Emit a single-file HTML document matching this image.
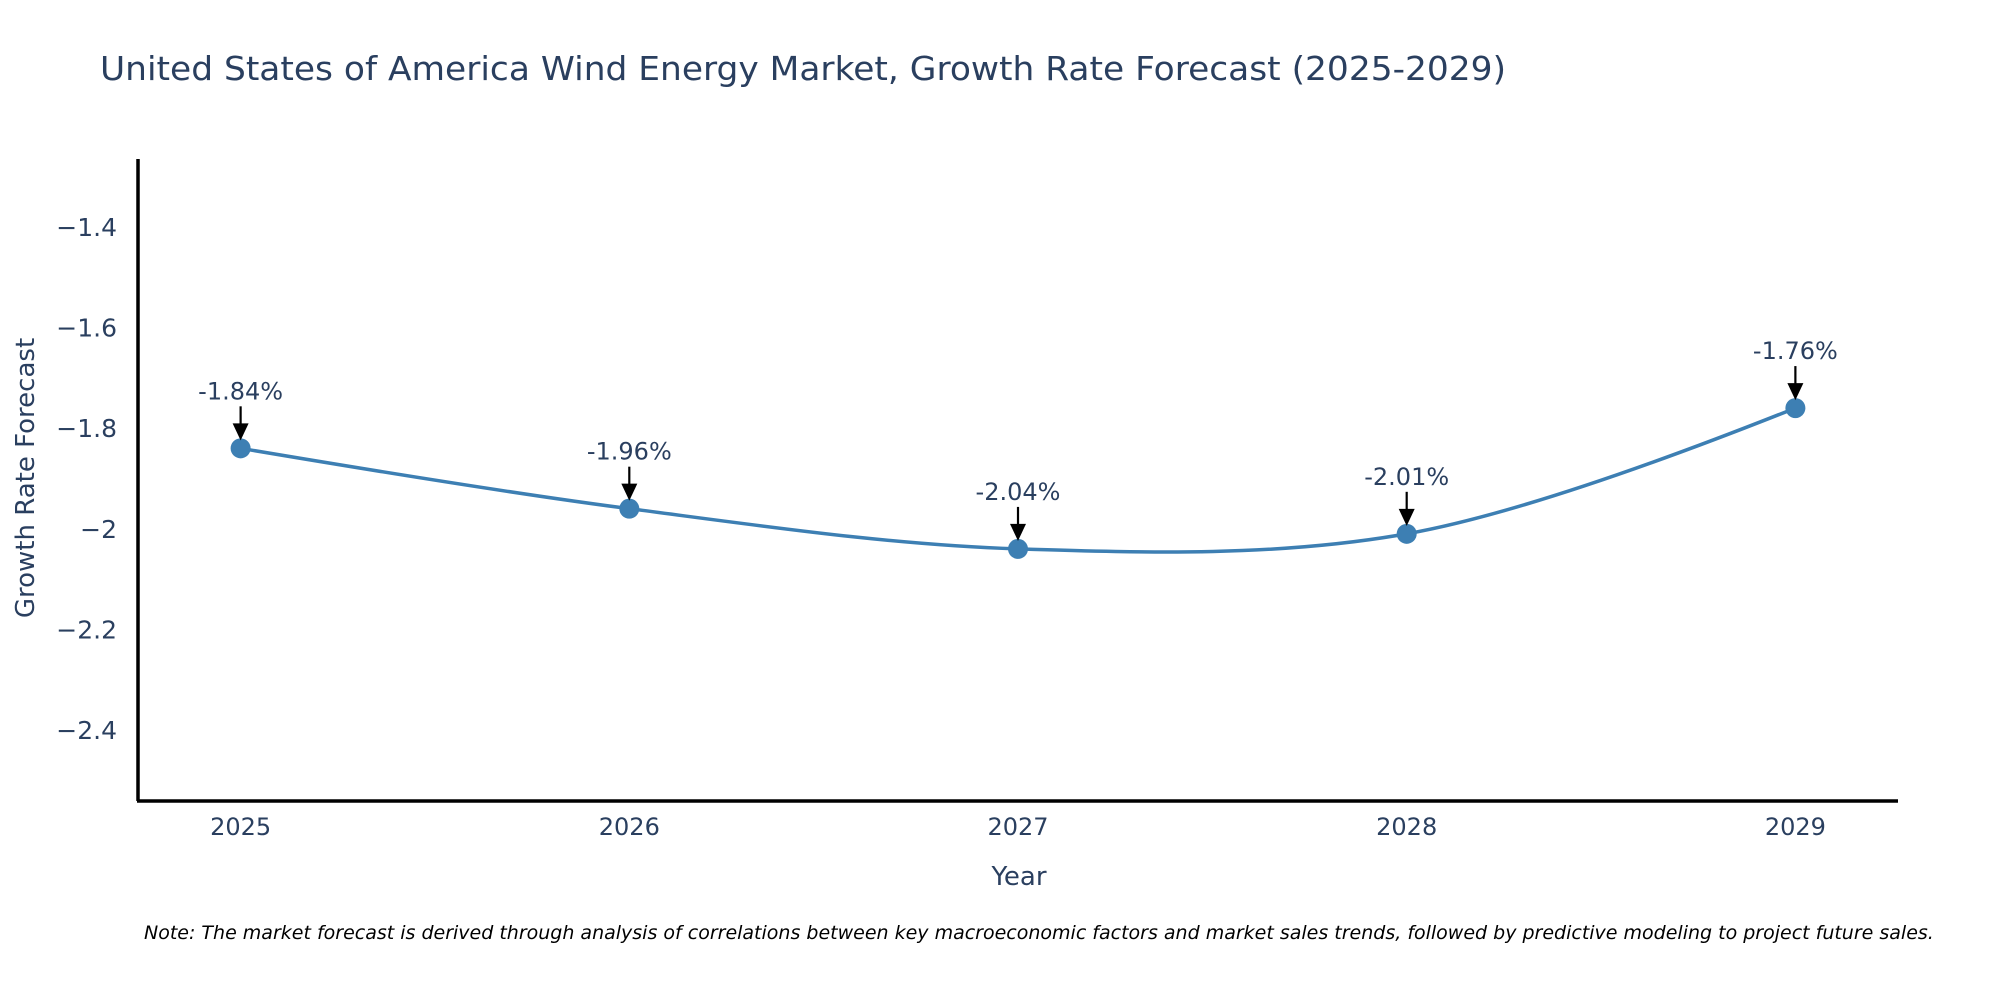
<!DOCTYPE html>
<html><head><meta charset="utf-8"><style>html,body{margin:0;padding:0;background:#fff}svg{display:block;font-family:"DejaVu Sans","Liberation Sans",sans-serif}</style></head>
<body>
<svg id="chart" width="2000" height="1000" viewBox="0 0 2000 1000">
<text x="100" y="80" font-size="33" fill="#2a3f5f" textLength="1406" lengthAdjust="spacingAndGlyphs">United States of America Wind Energy Market, Growth Rate Forecast (2025-2029)</text>
<g id="yticks"></g>
<g id="xticks"></g>
<text transform="translate(34,478) rotate(-90)" text-anchor="middle" font-size="26" fill="#2a3f5f">Growth Rate Forecast</text>
<text x="1019" y="885" text-anchor="middle" font-size="26" fill="#2a3f5f">Year</text>
<path id="series-line" fill="none" stroke="#3d7fb3" stroke-width="3.5"/>
<g id="marks"></g>
<line x1="138" y1="159" x2="138" y2="801" stroke="#000" stroke-width="3.5"/>
<line x1="137" y1="801" x2="1898" y2="801" stroke="#000" stroke-width="3.5"/>
<text x="144" y="939" font-size="19" font-style="italic" fill="#000">Note: The market forecast is derived through analysis of correlations between key macroeconomic factors and market sales trends, followed by predictive modeling to project future sales.</text>
</svg>
<script>
const years = [2025, 2026, 2027, 2028, 2029];
const growthValues = [-1.84, -1.96, -2.04, -2.01, -1.76];
const valueLabels = ["-1.84%", "-1.96%", "-2.04%", "-2.01%", "-1.76%"];
const yTickValues = [-1.4, -1.6, -1.8, -2, -2.2, -2.4];
const yTickLabels = ["\u22121.4", "\u22121.6", "\u22121.8", "\u22122", "\u22122.2", "\u22122.4"];

const NS = "http://www.w3.org/2000/svg";
const xMin = 2024.736, xMax = 2029.264, pxL = 138, pxR = 1898;
const yTop = -1.2648, yBot = -2.5392, pyT = 159, pyB = 800;
function xs(v){ return pxL + (v - xMin) / (xMax - xMin) * (pxR - pxL); }
function ys(v){ return pyT + (yTop - v) / (yTop - yBot) * (pyB - pyT); }
function mk(tag, attrs, parent){ const e = document.createElementNS(NS, tag); for (const k in attrs) e.setAttribute(k, attrs[k]); parent.appendChild(e); return e; }

const yt = document.getElementById('yticks');
yTickValues.forEach((v, i) => {
  const t = mk('text', {x: 117, y: ys(v) + 9, 'text-anchor': 'end', 'font-size': 25, fill: '#2a3f5f'}, yt);
  
  
  t.textContent = yTickLabels[i];
});
const xt = document.getElementById('xticks');
years.forEach(y => {
  const t = mk('text', {x: xs(y), y: 835, 'text-anchor': 'middle', 'font-size': 24, fill: '#2a3f5f'}, xt);
  
  
  t.textContent = String(y);
});

const pts = years.map((y, i) => [xs(y), ys(growthValues[i])]);
function tangent(p0, p1, p2, s){
  const d1x = p0[0]-p1[0], d1y = p0[1]-p1[1], d2x = p2[0]-p1[0], d2y = p2[1]-p1[1];
  const d1a = Math.pow(d1x*d1x + d1y*d1y, 0.25), d2a = Math.pow(d2x*d2x + d2y*d2y, 0.25);
  const nx = (d2a*d2a*d1x - d1a*d1a*d2x) * s, ny = (d2a*d2a*d1y - d1a*d1a*d2y) * s;
  const den1 = 3*d2a*(d1a+d2a), den2 = 3*d1a*(d1a+d2a);
  return [[p1[0]+nx/den1, p1[1]+ny/den1], [p1[0]-nx/den2, p1[1]-ny/den2]];
}
const tg = [];
for (let i = 1; i < pts.length - 1; i++) tg.push(tangent(pts[i-1], pts[i], pts[i+1], 1));
let d = 'M' + pts[0] + 'Q' + tg[0][0] + ' ' + pts[1];
for (let i = 2; i < pts.length - 1; i++) d += 'C' + tg[i-2][1] + ' ' + tg[i-1][0] + ' ' + pts[i];
d += 'Q' + tg[tg.length-1][1] + ' ' + pts[pts.length-1];
document.getElementById('series-line').setAttribute('d', d);

const mg = document.getElementById('marks');
pts.forEach((p, i) => {
  const c = mk('circle', {cx: p[0], cy: p[1], r: 10, fill: '#3d7fb3'}, mg);
  
  
  const a = mk('line', {x1: p[0], y1: p[1]-42, x2: p[0], y2: p[1]-22, stroke: '#000', 'stroke-width': 2.2}, mg);
  
  
  const h = mk('polygon', {points: (p[0]-8)+','+(p[1]-25)+' '+(p[0]+8)+','+(p[1]-25)+' '+p[0]+','+(p[1]-8), fill: '#000'}, mg);
  
  
  const t = mk('text', {x: p[0], y: p[1]-49, 'text-anchor': 'middle', 'font-size': 24, fill: '#2a3f5f'}, mg);
  
  
  t.textContent = valueLabels[i];
});
</script>
</body></html>
